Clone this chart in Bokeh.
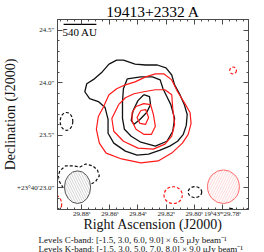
import math
import numpy as np
from bokeh.plotting import figure
from bokeh.models import Range1d, FixedTicker, LinearAxis, Label, Title
from bokeh.embed import file_html
from bokeh.resources import INLINE

# ---------------- data ----------------
TITLE = "19413+2332 A"
RA0_S = 29.84            # phase centre 19h43m29.84s
DEC0_AS = 23.5           # phase centre +23d40m23.5s
DEC_DEG = 23 + 40 / 60 + 23.5 / 3600
AS_PER_S = 15 * math.cos(math.radians(DEC_DEG))

ra_ticks = [29.88, 29.86, 29.84, 29.82, 29.80, 29.78]
ra_labels = ["29.88ˢ", "29.86ˢ", "29.84ˢ", "29.82ˢ", "29.80ˢ", "19ʰ43ᵐ29.78ˢ"]
dec_ticks = [23.0, 23.5, 24.0, 24.5]
dec_labels = ["+23°40′23.0″", "23.5″", "24.0″", "24.5″"]

cband_levels = [-1.5, 3.0, 6.0, 9.0]
cband_rms = 6.5
kband_levels = [-1.5, 3.0, 5.0, 7.0, 8.0]
kband_rms = 9.0

# contour vertices, arcsec offsets (east, north) from phase centre
c3_dx = [0.283, 0.208, 0.142, 0.028, -0.075, -0.189, -0.274, -0.330, -0.358, -0.406, -0.453, -0.481, -0.472, -0.443, -0.387, -0.311, -0.217, -0.104, 0.009, 0.123, 0.236, 0.292, 0.292, 0.321, 0.387, 0.472, 0.519, 0.500, 0.425, 0.349]
c3_dy = [0.679, 0.717, 0.717, 0.679, 0.670, 0.670, 0.642, 0.575, 0.481, 0.396, 0.292, 0.198, 0.094, 0.009, -0.057, -0.104, -0.142, -0.179, -0.189, -0.151, -0.075, 0.019, 0.151, 0.264, 0.321, 0.349, 0.415, 0.491, 0.538, 0.604]
c6_dx = [0.104, -0.028, -0.142, -0.217, -0.245, -0.283, -0.321, -0.358, -0.340, -0.283, -0.170, -0.028, 0.066, 0.132, 0.151, 0.151, 0.142]
c6_dy = [0.538, 0.557, 0.557, 0.528, 0.443, 0.368, 0.292, 0.160, 0.038, -0.057, -0.104, -0.066, -0.009, 0.057, 0.160, 0.321, 0.443]
c9_dx = [-0.057, -0.113, -0.123, -0.085, -0.019, 0.038, 0.066, 0.047, 0.0]
c9_dy = [0.387, 0.368, 0.292, 0.217, 0.151, 0.104, 0.142, 0.236, 0.330]
cneg_dx = [0.783, 0.764, 0.708, 0.632, 0.566, 0.509, 0.443, 0.396, 0.377, 0.415, 0.472, 0.538, 0.632, 0.726]
cneg_dy = [-0.415, -0.340, -0.292, -0.292, -0.302, -0.274, -0.292, -0.330, -0.387, -0.443, -0.472, -0.528, -0.547, -0.509]
# small negative islands: centre dx, dy, size w, h (arcsec)
cneg_x = [0.698, -0.557, -0.906]
cneg_y = [0.132, -0.542, -0.726]
cneg_w = [0.123, 0.132, 0.075]
cneg_h = [0.170, 0.104, 0.057]

k3_dx = [0.283, 0.208, 0.123, 0.028, -0.075, -0.170, -0.255, -0.330, -0.387, -0.453, -0.509, -0.519, -0.491, -0.434, -0.330, -0.198, -0.028, 0.160, 0.311, 0.377, 0.406, 0.387, 0.340]
k3_dy = [0.387, 0.443, 0.481, 0.509, 0.557, 0.585, 0.585, 0.528, 0.415, 0.311, 0.217, 0.113, 0.009, -0.075, -0.170, -0.245, -0.264, -0.226, -0.170, -0.075, 0.057, 0.179, 0.264]
k5_dx = [0.189, 0.123, 0.038, -0.057, -0.170, -0.264, -0.330, -0.340, -0.358, -0.330, -0.264, -0.151, 0.0, 0.142, 0.236, 0.255]
k5_dy = [0.292, 0.358, 0.396, 0.415, 0.434, 0.434, 0.387, 0.255, 0.104, -0.009, -0.085, -0.132, -0.123, -0.057, 0.038, 0.160]
k7_dx = [0.019, -0.057, -0.123, -0.151, -0.170, -0.132, -0.057, 0.019, 0.057, 0.057]
k7_dy = [0.274, 0.302, 0.292, 0.198, 0.085, 0.009, 0.009, 0.057, 0.132, 0.217]
k8_dx = [-0.028, -0.075, -0.104, -0.075, -0.019, 0.009]
k8_dy = [0.236, 0.245, 0.170, 0.104, 0.113, 0.170]
kneg_x = [-0.344, 0.802, -0.929]
kneg_y = [-0.571, -0.660, 0.618]
kneg_w = [0.179, 0.113, 0.066]
kneg_h = [0.160, 0.170, 0.066]

# synthesized beams: centre dx, dy, major/minor (arcsec)
cbeam = dict(dx=0.590, dy=-0.495, w=0.255, h=0.311)
kbeam = dict(dx=-0.835, dy=-0.491, w=0.311, h=0.321)

# scale bar
SCALE_AU = 540
scale_dx0, scale_len_as, scale_dy = 0.726, 0.320, 1.057

# ---------------- helpers ----------------
def ra(dx):
    return RA0_S + np.asarray(dx, dtype=float) / AS_PER_S

def dec(dy):
    return DEC0_AS + np.asarray(dy, dtype=float)

def closed(dx, dy):
    return list(ra(dx + dx[:1])), list(dec(dy + dy[:1]))

FONT = "Liberation Serif"
AX = "#4a4a4a"

x0, x1 = 29.8972, 29.7614
y0, y1 = 22.792, 24.604
p = figure(width=264, height=252, x_range=Range1d(x0, x1), y_range=Range1d(y0, y1),
           output_backend="svg", toolbar_location=None,
           min_border_left=54, min_border_right=16, min_border_top=17, min_border_bottom=43)
p.background_fill_color = "white"
p.border_fill_color = "white"
p.outline_line_color = AX
p.xgrid.visible = False
p.ygrid.visible = False

p.title.text = TITLE
p.title.text_font = FONT
p.title.text_font_size = "15.5px"
p.title.text_font_style = "normal"
p.title.align = "center"
p.title.standoff = 0
p.title.text_color = "black"

xt = FixedTicker(ticks=ra_ticks, minor_ticks=list(np.round(np.arange(29.76, 29.9001, 0.005), 3)))
yt = FixedTicker(ticks=dec_ticks, minor_ticks=list(np.round(np.arange(22.8, 24.61, 0.1), 2)))

def style(ax, labels=True):
    ax.major_tick_in = 5
    ax.major_tick_out = 0
    ax.minor_tick_in = 2
    ax.minor_tick_out = 0
    ax.axis_line_color = AX
    ax.major_tick_line_color = AX
    ax.minor_tick_line_color = AX
    ax.major_label_text_font = FONT
    ax.axis_label_text_font = FONT
    ax.axis_label_text_font_style = "normal"
    ax.axis_label_text_color = "#111111"
    if labels:
        ax.major_label_text_font_size = "7px"
        ax.major_label_text_color = "#222222"
    else:
        ax.major_label_text_font_size = "1px"
        ax.major_label_text_color = None
        ax.major_label_standoff = 0

bx = p.below[0]
bx.ticker = xt
bx.major_label_overrides = dict(zip(ra_ticks, ra_labels))
bx.axis_label = "Right Ascension (J2000)"
bx.axis_label_text_font_size = "14px"
style(bx)
bx.major_label_standoff = 0
bx.axis_label_standoff = -4

ly = p.left[0]
ly.ticker = yt
ly.major_label_overrides = dict(zip(dec_ticks, dec_labels))
ly.axis_label = "Declination (J2000)"
ly.axis_label_text_font_size = "14px"
style(ly)
ly.major_label_standoff = 3
ly.axis_label_standoff = -4

tx = LinearAxis(ticker=xt)
style(tx, labels=False)
p.add_layout(tx, "above")
ry = LinearAxis(ticker=yt)
style(ry, labels=False)
p.add_layout(ry, "right")

# positive contours
pos_c = [(c3_dx, c3_dy), (c6_dx, c6_dy), (c9_dx, c9_dy)]
xs, ys = zip(*[closed(a, b) for a, b in pos_c])
p.multi_line(xs=list(xs), ys=list(ys), line_color="#111111", line_width=1.3)
pos_k = [(k3_dx, k3_dy), (k5_dx, k5_dy), (k7_dx, k7_dy), (k8_dx, k8_dy)]
xs, ys = zip(*[closed(a, b) for a, b in pos_k])
p.multi_line(xs=list(xs), ys=list(ys), line_color="#ff1a1a", line_width=1.2)

# negative contours
nx, ny = closed(cneg_dx, cneg_dy)
p.line(nx, ny, line_color="#111111", line_width=1.2, line_dash="3 2")
p.ellipse(x=list(ra(cneg_x)), y=list(dec(cneg_y)), width=list(np.array(cneg_w) / AS_PER_S),
          height=cneg_h, fill_color=None, line_color="#111111", line_width=1.2, line_dash="3 2")
p.ellipse(x=list(ra(kneg_x)), y=list(dec(kneg_y)), width=list(np.array(kneg_w) / AS_PER_S),
          height=kneg_h, fill_color=None, line_color="#ff1a1a", line_width=1.2, line_dash="3 2")

# beams
p.ellipse(x=[float(ra(cbeam["dx"]))], y=[float(dec(cbeam["dy"]))], width=cbeam["w"] / AS_PER_S,
          height=cbeam["h"], fill_color="white", line_color="#555555", line_width=1,
          hatch_pattern="\\", hatch_color="#b4b4b4", hatch_scale=5, hatch_weight=0.6)
p.ellipse(x=[float(ra(kbeam["dx"]))], y=[float(dec(kbeam["dy"]))], width=kbeam["w"] / AS_PER_S,
          height=kbeam["h"], fill_color="white", line_color="#ff6a6a", line_width=1,
          hatch_pattern="/", hatch_color="#ffbcbc", hatch_scale=5, hatch_weight=0.6)

# scale bar
sx = list(ra([scale_dx0, scale_dx0 - scale_len_as]))
p.line(sx, [float(dec(scale_dy))] * 2, line_color="black", line_width=1.2)
p.add_layout(Label(x=float(ra(scale_dx0 - scale_len_as / 2)), y=float(dec(scale_dy - 0.015)),
                   text=f"{SCALE_AU} AU", text_font=FONT, text_font_size="11px",
                   text_align="center", text_baseline="top", text_color="black"))

# level captions under the axis
def fmt(lv):
    return "[" + ", ".join(f"{v:.1f}" for v in lv) + "]"
cap1 = f"Levels C-band: {fmt(cband_levels)} × {cband_rms} μJy beam⁻¹"
cap2 = f"Levels K-band: {fmt(kband_levels)} × {kband_rms} μJy beam⁻¹"
for cap, so in ((cap1, -4), (cap2, -2)):
    p.add_layout(Title(text=cap, align="left", offset=-19, standoff=so, text_font=FONT,
                       text_font_size="9px", text_font_style="normal", text_color="#111111"), "below")

open("out.html", "w").write(file_html(p, INLINE))
